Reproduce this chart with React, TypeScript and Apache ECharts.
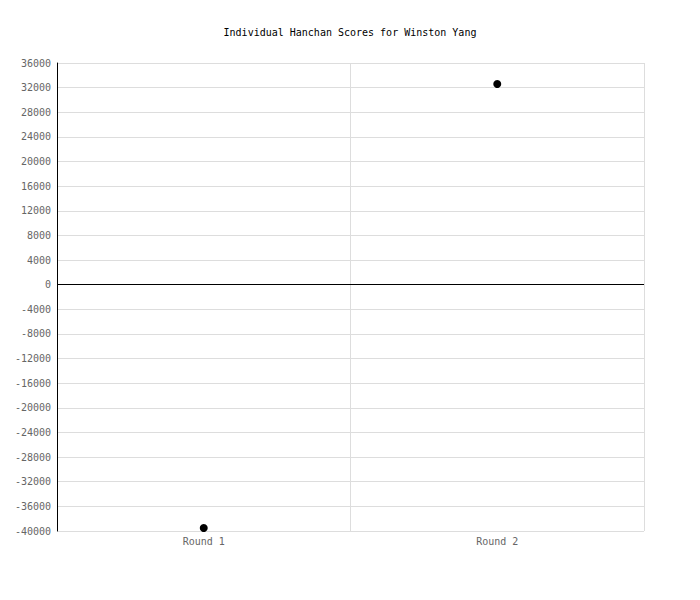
import { useEffect, useRef } from 'react'
import * as echarts from 'echarts'

// Individual Hanchan Scores · two rounds, scatter style
const ROUNDS = ['Round 1', 'Round 2']
const SCORES = [-39500, 32600]

const Y_MIN = -40000
const Y_MAX = 36000
const Y_STEP = 4000

const FONT = 'DejaVu Sans Mono, monospace'
const GRID_COLOR = '#dddddd'
const LABEL_COLOR = '#666666'

export default function App() {
  const containerRef = useRef<HTMLDivElement>(null)

  useEffect(() => {
    document.body.style.margin = '0'
    if (!containerRef.current) return
    const chart = echarts.init(containerRef.current, undefined, { renderer: 'svg' })

    chart.setOption({
      animation: false,
      backgroundColor: '#ffffff',
      title: {
        text: 'Individual Hanchan Scores for Winston Yang',
        left: 'center',
        top: 22,
        textStyle: {
          color: '#000000',
          fontSize: 10,
          fontWeight: 'normal',
          fontFamily: FONT,
        },
      },
      grid: { left: 57, right: 56, top: 63, bottom: 69 },
      xAxis: {
        type: 'category',
        data: ROUNDS,
        boundaryGap: true,
        axisLine: { show: false, onZero: false },
        axisTick: { show: false },
        axisLabel: {
          color: LABEL_COLOR,
          fontSize: 10,
          fontFamily: FONT,
          margin: 5,
        },
        splitLine: { show: true, lineStyle: { color: GRID_COLOR, width: 1 } },
      },
      yAxis: {
        type: 'value',
        min: Y_MIN,
        max: Y_MAX,
        interval: Y_STEP,
        axisLine: { show: true, lineStyle: { color: '#000000', width: 1 } },
        axisTick: { show: false },
        axisLabel: {
          color: LABEL_COLOR,
          fontSize: 10,
          fontFamily: FONT,
          margin: 6,
          formatter: (v: number) => String(v),
        },
        splitLine: { lineStyle: { color: GRID_COLOR, width: 1 } },
      },
      series: [
        {
          type: 'scatter',
          data: SCORES,
          symbol: 'circle',
          symbolSize: 8,
          itemStyle: { color: '#000000', opacity: 1 },
          markLine: {
            silent: true,
            symbol: ['none', 'none'],
            label: { show: false },
            lineStyle: { color: '#000000', width: 1, type: 'solid' },
            data: [{ yAxis: 0 }],
          },
        },
      ],
    })

    return () => chart.dispose()
  }, [])

  return <div ref={containerRef} style={{ width: 700, height: 600 }} />
}
